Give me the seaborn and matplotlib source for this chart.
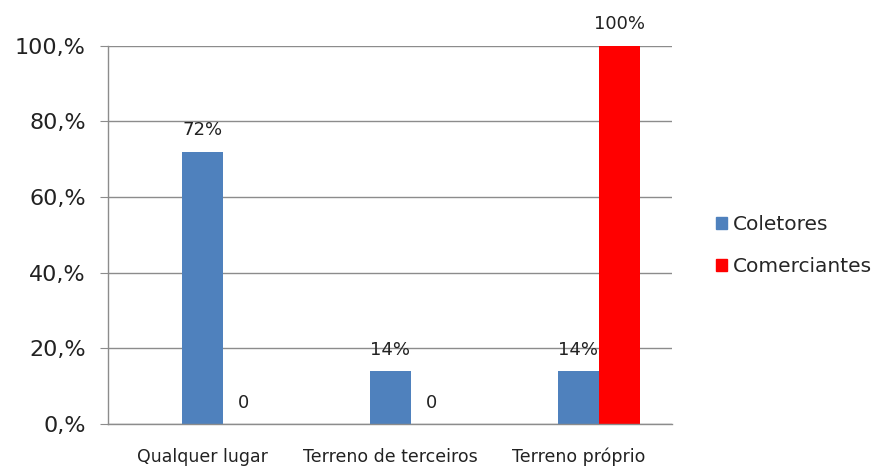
import pandas as pd
import matplotlib
matplotlib.use("Agg")
import matplotlib.pyplot as plt
import seaborn as sns
from matplotlib.patches import Patch
from matplotlib.ticker import FixedLocator

# --------------------------------------------------
# Data
# --------------------------------------------------

categories = ["Qualquer lugar", "Terreno de terceiros", "Terreno próprio"]
coletores = [0.72, 0.14, 0.14]
comerciantes = [0.0, 0.0, 1.0]
coletores_labels = ["72%", "14%", "14%"]
comerciantes_labels = ["0", "0", "100%"]
y_ticks = [0.0, 0.2, 0.4, 0.6, 0.8, 1.0]
y_tick_labels = ["0,%", "20,%", "40,%", "60,%", "80,%", "100,%"]

# the original chart has an empty first series, which shifts the bars right
series = ["_vazio", "Coletores", "Comerciantes"]
colors = ["#FFFFFF", "#4F81BD", "#FF0000"]

df = pd.DataFrame({
    "Local": categories * 3,
    "Grupo": [series[0]] * 3 + [series[1]] * 3 + [series[2]] * 3,
    "Valor": [0.0] * 3 + coletores + comerciantes,
})

# --------------------------------------------------
# Plot
# --------------------------------------------------

sns.set_style("white")
grid_gray = "#8C8C8C"

fig = plt.figure(figsize=(8.72, 4.68), dpi=100)
ax = fig.add_axes([0.124, 0.094, 0.647, 0.808])

sns.barplot(
    data=df, x="Local", y="Valor", hue="Grupo",
    order=categories, hue_order=series, palette=colors,
    width=0.654, dodge=True, legend=False, ax=ax,
    errorbar=None, saturation=1, linewidth=0,
)

ax.bar_label(ax.containers[1], labels=coletores_labels, padding=9,
             fontsize=13, color="#222222")
ax.bar_label(ax.containers[2], labels=comerciantes_labels, padding=9,
             fontsize=13, color="#222222")

ax.set_ylim(0, 1.0)
ax.set_xlim(-0.5, 2.5)
ax.yaxis.set_major_locator(FixedLocator(y_ticks))
ax.set_yticklabels(y_tick_labels, fontsize=16, color="#222222")
ax.grid(axis="y", color=grid_gray, linewidth=1)
ax.set_axisbelow(True)

ax.set_xlabel("")
ax.set_ylabel("")
ax.tick_params(axis="x", length=0, pad=17, labelsize=12.5, labelcolor="#222222")
ax.xaxis.set_minor_locator(FixedLocator([-0.5, 0.5, 1.5, 2.5]))
ax.tick_params(axis="x", which="minor", length=6, color=grid_gray, direction="out")
ax.tick_params(axis="y", length=6, color=grid_gray, direction="out", pad=10, left=True)

for side in ["top", "right"]:
    ax.spines[side].set_visible(False)
for side in ["left", "bottom"]:
    ax.spines[side].set_color(grid_gray)
    ax.spines[side].set_linewidth(1)

handles = [Patch(color=colors[1]), Patch(color=colors[2])]
fig.legend(handles, series[1:], loc="center left",
           bbox_to_anchor=(0.80, 0.475), frameon=False, fontsize=14.5,
           handlelength=0.55, handleheight=0.55, handletextpad=0.3,
           labelspacing=1.15)

fig.savefig("out.png", dpi=100)
